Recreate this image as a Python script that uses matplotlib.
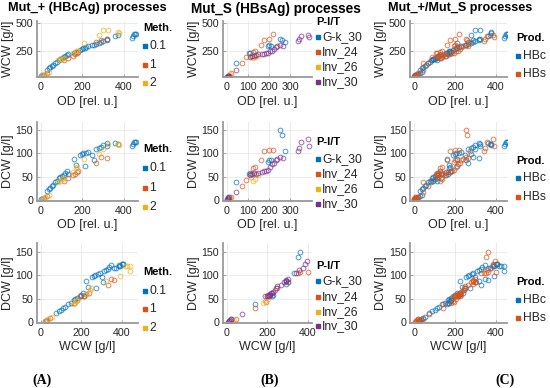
import matplotlib
matplotlib.use("Agg")
import matplotlib.pyplot as plt
from matplotlib.lines import Line2D
import numpy as np

plt.rcParams['font.family'] = ['Liberation Sans', 'DejaVu Sans']

# ---------------- Data: Mut_+ (HBcAg) processes, by method ----------------
meth_labels = ['0.1', '1', '2']
# Method 0.1
od_m01 = [2, 5, 30, 38, 45, 52, 60, 68, 78, 88, 95, 102, 110, 118, 125, 132, 160, 172, 190, 198,
          205, 212, 220, 230, 248, 255, 265, 280, 290, 300, 318, 322, 360, 372, 440, 445, 450, 455, 460]
wcw_m01 = [20, 25, 75, 90, 100, 110, 120, 135, 150, 165, 170, 180, 195, 200, 210, 215, 225, 235, 255, 265,
           270, 275, 285, 290, 300, 305, 310, 320, 330, 335, 345, 360, 385, 390, 370, 385, 400, 405, 405]
dcw_m01 = [2, 3, 20, 23, 27, 30, 33, 38, 42, 47, 50, 52, 55, 58, 62, 57, 88, 75, 97, 98,
           100, 73, 102, 104, 96, 85, 110, 112, 114, 118, 122, 115, 122, 121, 115, 120, 124, 124, 125]
# Method 1
od_m1 = [15, 30, 110, 130, 155, 165, 175, 180, 265, 290, 320]
wcw_m1 = [30, 45, 165, 180, 200, 215, 225, 240, 330, 345, 360]
dcw_m1 = [5, 10, 42, 48, 55, 57, 60, 62, 79, 92, 91]
# Method 2
od_m2 = [5, 20, 40, 85, 95, 100, 110, 155, 170, 175, 210, 280, 300, 325, 375, 378]
wcw_m2 = [22, 35, 55, 160, 170, 175, 180, 225, 245, 250, 320, 390, 440, 440, 425, 415]
dcw_m2 = [2, 7, 12, 38, 42, 45, 47, 60, 68, 72, 88, 98, 110, 120, 121, 119]

# ---------------- Data: Mut_S (HBsAg) processes, by P-I/T ----------------
pit_labels = ['G-k_30', 'Inv_24', 'Inv_26', 'Inv_30']
od_gk30 = [2, 5, 45, 105, 112, 195, 200, 210, 255, 260, 275]
wcw_gk30 = [10, 20, 140, 225, 230, 290, 300, 290, 360, 350, 330]
dcw_gk30 = [3, 7, 38, 56, 58, 82, 85, 87, 150, 140, 105]

od_inv24 = [8, 20, 70, 90, 115, 125, 135, 160, 175, 200, 220]
wcw_inv24 = [20, 45, 140, 195, 205, 240, 250, 300, 350, 360, 400]
dcw_inv24 = [3, 6, 30, 44, 56, 68, 72, 85, 105, 107, 108]

od_inv26 = [10, 15, 115, 125, 135, 150]
wcw_inv26 = [25, 35, 205, 180, 190, 200]
dcw_inv26 = [3, 5, 50, 42, 46, 55]

od_inv30 = [0, 3, 6, 10, 45, 110, 120, 130, 140, 150, 165, 175, 185, 195, 205, 215, 225, 232,
            240, 255, 265, 340, 345, 355, 385, 390]
wcw_inv30 = [5, 10, 15, 20, 75, 190, 200, 205, 210, 215, 215, 220, 225, 230, 245, 250, 265, 280,
             290, 300, 290, 340, 355, 385, 395, 375]
dcw_inv30 = [0, 2, 4, 6, 18, 55, 57, 58, 57, 58, 60, 62, 63, 65, 72, 78, 80, 85,
             88, 92, 90, 105, 112, 125, 130, 116]

prod_labels = ['HBc', 'HBs']

# ---------------- Style ----------------
c_blue, c_orange, c_yellow, c_purple = '#0072BD', '#D95319', '#EDB120', '#7E2F8E'
txt_col = '#262626'

groupA = [(od_m01, wcw_m01, dcw_m01, c_blue),
          (od_m1, wcw_m1, dcw_m1, c_orange),
          (od_m2, wcw_m2, dcw_m2, c_yellow)]
groupB = [(od_gk30, wcw_gk30, dcw_gk30, c_blue),
          (od_inv24, wcw_inv24, dcw_inv24, c_orange),
          (od_inv26, wcw_inv26, dcw_inv26, c_yellow),
          (od_inv30, wcw_inv30, dcw_inv30, c_purple)]
groupC = [(sum([g[0] for g in groupA], []), sum([g[1] for g in groupA], []), sum([g[2] for g in groupA], []), c_blue),
          (sum([g[0] for g in groupB], []), sum([g[1] for g in groupB], []), sum([g[2] for g in groupB], []), c_orange)]

W, H = 550, 388
fig = plt.figure(figsize=(5.5, 3.88), dpi=100)

def fx(px):
    return px / W

def fy(py):
    return 1 - py / H

cols = [(36.7, 138.0), (222.7, 312.0), (410.0, 507.0)]
rows = [(20.7, 77.3), (121.7, 200.7), (243.0, 322.7)]

xlims = [[(-20, 470), (-20, 470), (-20, 480)],
         [(-20, 405), (-20, 405), (-20, 420)],
         [(-20, 455), (-20, 455), (-20, 455)]]
ylims = [(5, 525), (-1, 168), (-1, 169)]
xticks = [[[0, 200, 400]] * 3,
          [[0, 100, 200, 300], [0, 100, 200, 300], [0, 200, 400]],
          [[0, 200, 400]] * 3]
yticks = [[250, 500], [0, 50, 100, 150], [0, 50, 100, 150]]
xlabels = ['OD [rel. u.]', 'OD [rel. u.]', 'WCW [g/l]']
ylabels = ['WCW [g/l]', 'DCW [g/l]', 'DCW [g/l]']
pairs = [(0, 1), (0, 2), (1, 2)]
groups = [groupA, groupB, groupC]

for ci, (l, r) in enumerate(cols):
    for ri, (t, b) in enumerate(rows):
        ax = fig.add_axes([fx(l), fy(b), fx(r - l), (b - t) / H])
        xi, yi = pairs[ri]
        for g in groups[ci]:
            ax.plot(g[xi], g[yi], 'o', ls='none', ms=3.4, mfc='none', mec=g[3], mew=0.7, alpha=0.72)
        ax.set_xlim(*xlims[ci][ri])
        ax.set_ylim(*ylims[ri])
        ax.set_xticks(xticks[ci][ri])
        ax.set_yticks(yticks[ri])
        ax.grid(True, color='#e8e8e8', lw=0.6)
        ax.set_axisbelow(True)
        for s in ['top', 'right']:
            ax.spines[s].set_visible(False)
        for s in ['left', 'bottom']:
            ax.spines[s].set_color('#9a9a9a')
            ax.spines[s].set_linewidth(1.3)
        ax.tick_params(direction='in', length=2, width=0.6, color='#9a9a9a',
                       labelsize=7.7, labelcolor=txt_col)
        ax.tick_params(axis='x', pad=3.5)
        ax.tick_params(axis='y', pad=2.5)
        ax.set_xlabel(xlabels[ri], fontsize=9.0, color=txt_col, labelpad=2.5)
        ax.set_ylabel(ylabels[ri], fontsize=9.0, color=txt_col, labelpad=1.5)

# ---------------- Titles ----------------
fig.text(fx(87.5), fy(8.5), 'Mut_+ (HBcAg) processes', ha='center', va='center',
         fontsize=9.2, fontweight='bold', color='black')
fig.text(fx(276), fy(8.5), 'Mut_S (HBsAg) processes', ha='center', va='center',
         fontsize=9.8, fontweight='bold', color='black')
fig.text(fx(460.5), fy(8.5), 'Mut_+/Mut_S processes', ha='center', va='center',
         fontsize=9.1, fontweight='bold', color='black')

# ---------------- Legends ----------------
def legend(x_sq, x_txt, y_title, ys, title, labels, colors):
    fig.text(fx(x_sq - 1.5), fy(y_title), title, ha='left', va='center',
             fontsize=8.0, fontweight='bold', color='black')
    for y, lab, c in zip(ys, labels, colors):
        fig.add_artist(Line2D([fx(x_sq)], [fy(y)], marker='s', ms=3.0, color=c,
                              ls='none', transform=fig.transFigure))
        fig.text(fx(x_txt), fy(y), lab, ha='left', va='center', fontsize=8.7, color=txt_col)

colsA = [c_blue, c_orange, c_yellow]
colsB = [c_blue, c_orange, c_yellow, c_purple]
colsC = [c_blue, c_orange]
legA = [(28.3, [45.7, 65, 83.3]), (149.3, [168.3, 188.3, 207.3]), (271.7, [290.7, 309, 327.7])]
legB = [(21.7, [36.7, 52.3, 67.3, 81.7]), (141.7, [159.3, 174.3, 189.3, 204]),
        (265.7, [281, 296.7, 311.7, 325.7])]
legC = [(38, [56, 74]), (160.7, [178, 197]), (282, [300, 318])]
for (yt, ys) in legA:
    legend(145, 149.5, yt, ys, 'Meth.', meth_labels, colsA)
for (yt, ys) in legB:
    legend(318, 322, yt, ys, 'P-I/T', pit_labels, colsB)
for (yt, ys) in legC:
    legend(518, 522.5, yt, ys, 'Prod.', prod_labels, colsC)

# ---------------- Panel labels ----------------
for x, lab in [(42, '(A)'), (270, '(B)'), (505, '(C)')]:
    fig.text(fx(x), fy(380.5), lab, ha='center', va='center', fontsize=10,
             fontweight='bold', family='Liberation Serif', color='black')

fig.savefig('out.png', dpi=100)
